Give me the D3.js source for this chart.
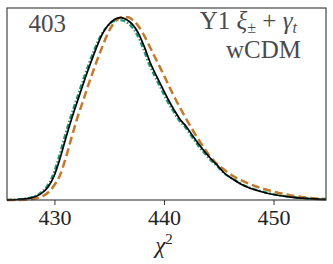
<!DOCTYPE html>
<html>
<head>
<meta charset="utf-8">
<script src="https://cdn.jsdelivr.net/npm/d3@7"></script>
<style>
  body { margin: 0; background: #fff; }
  svg text { font-family: "Liberation Serif", "Times New Roman", serif; }
</style>
</head>
<body>
<div id="chart"></div>
<script>
var width = 333,
    height = 264;

var margin = {top: 8, right: 7, bottom: 64, left: 7};

// chi2 values and relative density
var blackX = [425.67, 426.86, 427.77, 428.69, 429.42, 429.97, 430.52, 431.07, 431.62, 432.17, 432.72, 433.27, 433.82, 434.37, 434.92, 435.47, 436.02, 436.57, 437.12, 437.66, 438.21, 438.76, 439.31, 439.86, 440.41, 440.96, 441.51, 442.06, 442.61, 443.16, 443.71, 444.26, 444.9, 445.45, 446.28, 447.0, 447.92, 448.83, 449.75, 450.67, 451.58, 452.5, 453.6, 454.79];
var blackY = [0, 0.0004, 0.001, 0.0029, 0.0068, 0.0125, 0.0218, 0.0328, 0.0432, 0.0525, 0.0619, 0.0707, 0.079, 0.0863, 0.091, 0.0939, 0.0948, 0.0939, 0.0913, 0.0868, 0.0796, 0.0712, 0.0645, 0.0582, 0.052, 0.0465, 0.0416, 0.038, 0.0335, 0.0291, 0.0252, 0.0216, 0.0179, 0.0143, 0.0109, 0.0083, 0.006, 0.0044, 0.0031, 0.0022, 0.0015, 0.001, 0.0006, 0.0003];

var tealX = [425.67, 426.72, 427.63, 428.55, 429.28, 429.83, 430.38, 430.93, 431.48, 432.03, 432.58, 433.13, 433.68, 434.23, 434.78, 435.33, 435.88, 436.43, 436.98, 437.52, 438.07, 438.62, 439.17, 439.72, 440.27, 440.82, 441.37, 441.92, 442.47, 443.02, 443.57, 444.12, 444.8, 445.4, 446.28, 447.0, 447.92, 448.83, 449.75, 450.67, 451.58, 452.5, 453.6, 454.79];
var tealY = [0, 0.0004, 0.001, 0.0029, 0.0068, 0.0125, 0.0218, 0.0328, 0.0432, 0.0525, 0.0619, 0.0707, 0.0787, 0.0855, 0.09, 0.0928, 0.0936, 0.093, 0.0905, 0.0862, 0.0792, 0.071, 0.0642, 0.058, 0.0518, 0.0464, 0.0415, 0.038, 0.0335, 0.0291, 0.0252, 0.0216, 0.0179, 0.0143, 0.011, 0.0085, 0.0062, 0.0046, 0.0033, 0.0023, 0.0016, 0.001, 0.0006, 0.0003];

var orangeX = [425.67, 427.32, 428.42, 429.06, 429.61, 430.06, 430.48, 431.03, 431.58, 432.12, 432.67, 433.22, 433.77, 434.32, 434.87, 435.42, 435.83, 436.29, 436.75, 437.21, 437.66, 438.12, 438.58, 439.12, 439.67, 440.22, 440.77, 441.33, 441.88, 442.43, 442.98, 443.53, 444.07, 444.62, 445.17, 445.9, 446.64, 447.37, 448.28, 449.2, 450.11, 451.03, 451.95, 452.86, 453.87, 454.79];
var orangeY = [0, 0.0001, 0.001, 0.0024, 0.0049, 0.0083, 0.0125, 0.0218, 0.0328, 0.0432, 0.0525, 0.0619, 0.0707, 0.079, 0.0866, 0.092, 0.0944, 0.0953, 0.095, 0.0933, 0.0905, 0.0863, 0.0811, 0.0749, 0.0686, 0.0621, 0.0556, 0.0494, 0.0437, 0.0382, 0.033, 0.0281, 0.0237, 0.02, 0.0172, 0.014, 0.0114, 0.0094, 0.0073, 0.0056, 0.0042, 0.003, 0.0021, 0.0014, 0.0008, 0.0005];

var xTicks = [430, 440, 450];

var svg = d3.select('#chart')
    .append('svg')
    .attr('width', width)
    .attr('height', height);

var x = d3.scaleLinear()
    .domain([425.67, 454.79])
    .range([margin.left, width - margin.right]);

var y = d3.scaleLinear()
    .domain([0, 0.1])
    .range([height - margin.bottom, height - margin.bottom - 192.3]);

var line = d3.line()
    .x(d => x(d[0]))
    .y(d => y(d[1]))
    .curve(d3.curveMonotoneX);

var zip = (xs, ys) => xs.map((v, i) => [v, ys[i]]);

var g = svg.append('g');

g.append('path')
    .attr('d', line(zip(tealX, tealY)))
    .attr('fill', 'none')
    .attr('stroke', '#1b9a7b')
    .attr('stroke-width', 2.3)
    .attr('stroke-dasharray', '5,2,1.5,2');

g.append('path')
    .attr('d', line(zip(orangeX, orangeY)))
    .attr('fill', 'none')
    .attr('stroke', '#c27a2c')
    .attr('stroke-width', 2.5)
    .attr('stroke-dasharray', '8,4');

g.append('path')
    .attr('d', line(zip(blackX, blackY)))
    .attr('fill', 'none')
    .attr('stroke', '#000')
    .attr('stroke-width', 1.7);

// frame
svg.append('rect')
    .attr('x', x.range()[0])
    .attr('y', margin.top)
    .attr('width', x.range()[1] - x.range()[0])
    .attr('height', height - margin.bottom - margin.top)
    .attr('fill', 'none')
    .attr('stroke', '#333')
    .attr('stroke-width', 1.1);

var xAxis = svg.append('g')
    .attr('transform', 'translate(0,' + (height - margin.bottom) + ')')
    .call(d3.axisBottom(x).tickValues(xTicks).tickSize(5).tickPadding(4).tickFormat(d3.format('d')));

xAxis.select('.domain').remove();
xAxis.selectAll('line').attr('stroke', '#333');
xAxis.selectAll('text')
    .attr('fill', '#222')
    .style('font-size', '22px')
    .style('font-family', '"Liberation Serif", "Times New Roman", serif');

// x label
var xl = svg.append('text')
    .attr('x', 164)
    .attr('y', 253)
    .attr('text-anchor', 'middle')
    .attr('fill', '#222')
    .style('font-size', '23px');
xl.append('tspan').style('font-style', 'italic').text('χ');
xl.append('tspan').attr('dy', -9).style('font-size', '15px').text('2');

// annotations
svg.append('text')
    .attr('x', 28.5)
    .attr('y', 32)
    .attr('fill', '#4a4a4a')
    .style('font-size', '25px')
    .text('403');

var t = svg.append('text')
    .attr('x', 297)
    .attr('y', 29)
    .attr('text-anchor', 'end')
    .attr('fill', '#4a4a4a')
    .style('font-size', '25px');
t.append('tspan').text('Y1 ');
t.append('tspan').style('font-style', 'italic').text('ξ');
t.append('tspan').attr('dy', 4).style('font-size', '16px').text('±');
t.append('tspan').attr('dy', -4).text(' + ');
t.append('tspan').style('font-style', 'italic').text('γ');
t.append('tspan').attr('dy', 4).style('font-size', '16px').style('font-style', 'italic').text('t');

svg.append('text')
    .attr('x', 301)
    .attr('y', 58)
    .attr('text-anchor', 'end')
    .attr('fill', '#4a4a4a')
    .style('font-size', '25px')
    .text('wCDM');
</script>
</body>
</html>
